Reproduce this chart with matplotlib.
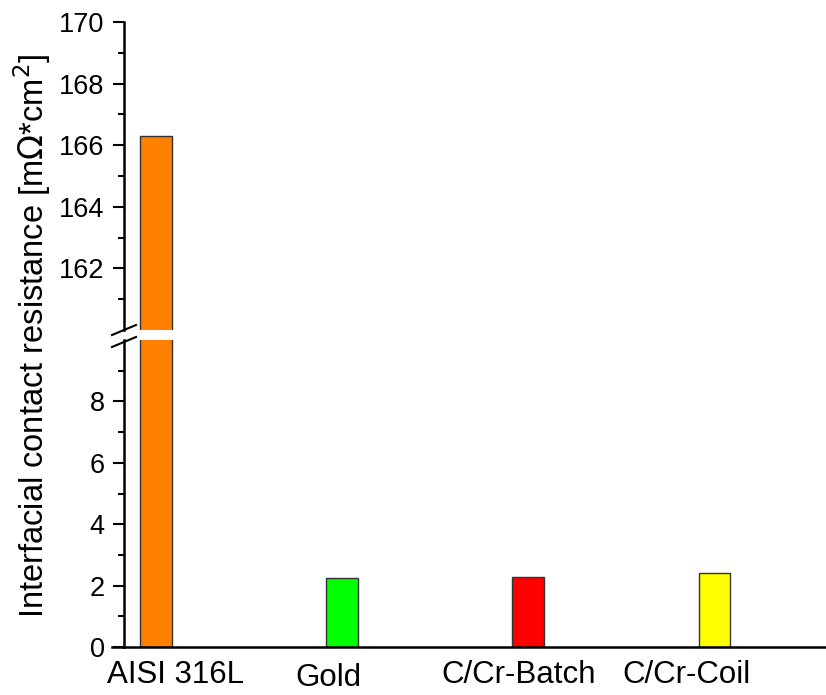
import numpy as np
import matplotlib.pyplot as plt

plt.rcParams['font.family'] = ['Liberation Sans', 'DejaVu Sans']

samples = ['AISI 316L', 'Gold', 'C/Cr-Batch', 'C/Cr-Coil']
icr = [166.3, 2.25, 2.28, 2.4]
colors = ['#FF8000', '#00FF00', '#FF0000', '#FFFF00']
low_ticks = [0, 2, 4, 6, 8]
high_ticks = [162, 164, 166, 168, 170]

x = np.arange(1, len(samples) + 1)
# category labels were placed by hand, not centred under the bars
label_x = x + np.array([0.107, -0.075, -0.054, -0.15])
label_y = [-0.9, -1.0, -0.9, -0.9]
W, H = 826, 695

fig = plt.figure(figsize=(W / 100, H / 100), dpi=100)
left = 124 / W
ax_hi = fig.add_axes([left, 1 - 330 / H, 1.0 - left, 308 / H])
ax_lo = fig.add_axes([left, 1 - 647 / H, 1.0 - left, 307 / H])

for ax in (ax_hi, ax_lo):
    ax.bar(x, icr, width=0.17, color=colors, edgecolor='#333333', linewidth=1)
    ax.set_xlim(0.828, 4.6)
    for s in ('top', 'right'):
        ax.spines[s].set_visible(False)
    ax.spines['left'].set_linewidth(1.8)
    ax.tick_params(axis='y', which='major', length=8, width=1.5, labelsize=19.5, pad=6)
    ax.tick_params(axis='y', which='minor', length=4, width=1.5)
    ax.patch.set_visible(False)

ax_hi.set_ylim(160, 170)
ax_hi.set_yticks(high_ticks)
ax_hi.set_yticks(np.arange(161, 170, 2), minor=True)
ax_hi.spines['bottom'].set_visible(False)
ax_hi.set_xticks([])

ax_lo.set_ylim(0, 10)
ax_lo.set_yticks(low_ticks)
ax_lo.set_yticks(np.arange(1, 10, 2), minor=True)
ax_lo.spines['bottom'].set_linewidth(1.8)
ax_lo.set_xticks([])
for lx, ly, name in zip(label_x, label_y, samples):
    ax_lo.text(lx, ly, name, fontsize=22.5, ha='center', va='center')

# extend the zero line a little left of the axis like a tick
ax_lo.plot([0.828 - 12 / 186.5, 0.828], [0, 0], color='black', lw=1.8, clip_on=False)

# break marks on the y axis
for yb in (325, 337):
    fig.add_artist(plt.Line2D([112 / W, 136 / W], [1 - (yb + 10) / H, 1 - yb / H],
                              color='black', lw=1.5))

fig.text(32 / W, 1 - 336 / H, 'Interfacial contact resistance [m$\\Omega$*cm$^2$]',
         rotation=90, ha='center', va='center', fontsize=23.5)

fig.savefig('out.png', dpi=100)
